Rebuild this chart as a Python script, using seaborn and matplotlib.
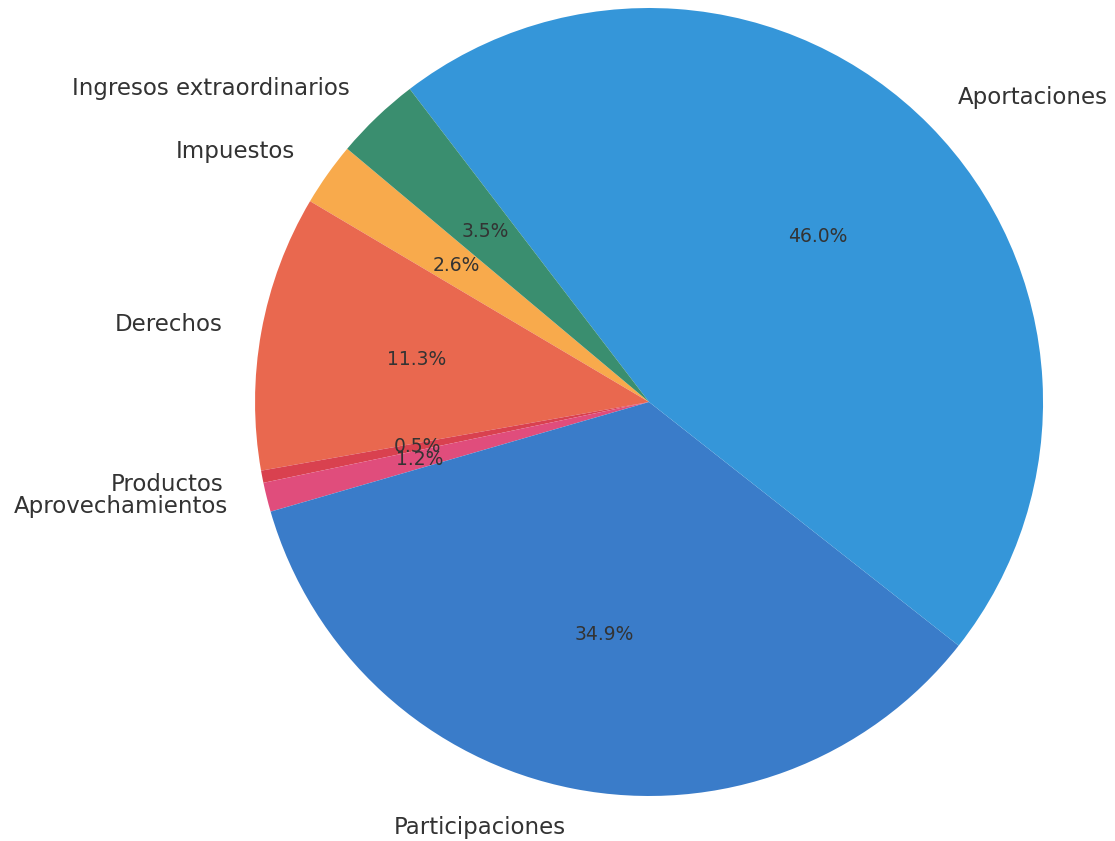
import matplotlib
matplotlib.use("Agg")
import matplotlib.pyplot as plt
import seaborn as sns

# Ingresos por rubro (%)
labels = ["Impuestos", "Derechos", "Productos", "Aprovechamientos",
          "Participaciones", "Aportaciones", "Ingresos extraordinarios"]
values = [2.6, 11.3, 0.5, 1.2, 34.9, 46.0, 3.5]
colors = ["#f8aa4c", "#e9684f", "#d9414f", "#e04d7c",
          "#3a7cc9", "#3596d9", "#3a8e6f"]

sns.set_theme(style="white")
plt.rcParams['font.family'] = ['DejaVu Sans']

fig = plt.figure(figsize=(11.15, 8.41), dpi=100)
# axes placed so the pie sits where it does in the original
ax = fig.add_axes([0.1404, -0.0636, 0.8834, 1.1712])

wedges, texts, autotexts = ax.pie(values, labels=labels, colors=colors,
                                  autopct='%1.1f%%', startangle=140,
                                  wedgeprops={'linewidth': 0},
                                  textprops={'color': '#333333'})
for t in texts:
    t.set_fontsize(16.5)
for t in autotexts:
    t.set_fontsize(13.5)

ax.set_aspect('auto')
ax.set_xlim(-1.25, 1.25)
ax.set_ylim(-1.25, 1.25)

fig.savefig("out.png", dpi=100)
